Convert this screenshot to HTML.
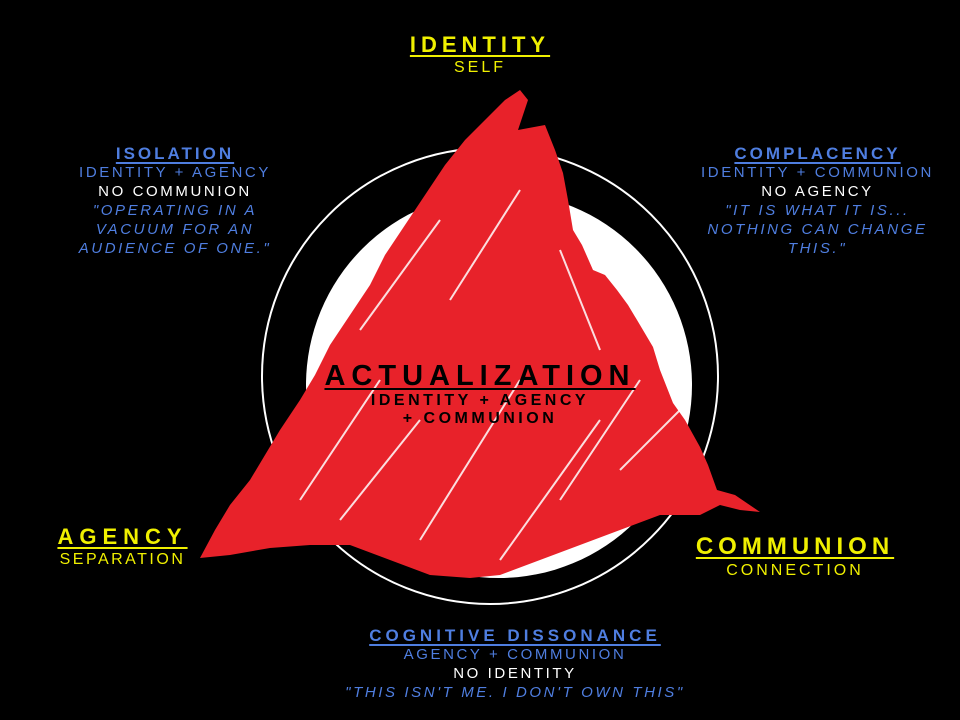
<!DOCTYPE html>
<html><head><meta charset="utf-8"><style>
html,body{margin:0;padding:0;background:#000;}
#c{position:relative;width:960px;height:720px;overflow:hidden;background:#000;font-family:"Liberation Sans",sans-serif;}
.b{position:absolute;text-align:center;text-transform:uppercase;white-space:nowrap;}
.b div{line-height:19px;font-size:15px;letter-spacing:2.6px;}
.h{font-weight:bold;text-decoration:underline;text-decoration-thickness:2px;text-underline-offset:3px;}
.blue{color:#4f7ee0;}
.w{color:#fff;}
.y{color:#f0f000;}
.i{font-style:italic;}
</style></head><body><div id="c">
<svg width="960" height="720" style="position:absolute;left:0;top:0">
<circle cx="490" cy="376" r="228" fill="#000" stroke="#fff" stroke-width="2"/>
<circle cx="499" cy="385" r="193" fill="#fff"/>
<polygon fill="#e8222a" points="520,90 528,100 518,130 545,125 555,150 563,173 568,200 573,230 582,245 593,270 605,275 617,290 628,305 640,325 653,347 660,370 673,403 685,420 700,447 708,465 717,490 735,495 760,512 740,510 720,505 700,515 660,515 620,530 580,545 540,560 500,575 470,578 430,575 390,560 350,545 310,545 270,548 230,555 200,558 215,530 230,505 250,480 265,455 280,430 300,400 315,375 330,345 350,315 370,285 385,255 405,225 425,195 445,165 465,140 490,115 505,100"/>
<g stroke="#fff" stroke-width="2" opacity="0.85">
<line x1="300" y1="500" x2="380" y2="380"/>
<line x1="420" y1="540" x2="520" y2="380"/>
<line x1="560" y1="500" x2="640" y2="380"/>
<line x1="450" y1="300" x2="520" y2="190"/>
<line x1="360" y1="330" x2="440" y2="220"/>
<line x1="600" y1="350" x2="560" y2="250"/>
<line x1="500" y1="560" x2="600" y2="420"/>
<line x1="340" y1="520" x2="420" y2="420"/>
<line x1="620" y1="470" x2="690" y2="400"/>
</g>
</svg>
<div class="b" style="left:330px;width:300px;top:32px"><div class="y h" style="font-size:22px;line-height:26px;letter-spacing:5px">Identity</div><div class="y" style="font-size:16px;letter-spacing:3px">Self</div></div>
<div class="b" style="left:40px;width:270px;top:144px"><div class="blue h" style="font-size:17px;letter-spacing:3px">Isolation</div><div class="blue">Identity + Agency</div><div class="w">No communion</div><div class="blue i">"Operating in a</div><div class="blue i">vacuum for an</div><div class="blue i">audience of one."</div></div>
<div class="b" style="left:670px;width:295px;top:144px"><div class="blue h" style="font-size:17px;letter-spacing:3px">Complacency</div><div class="blue">Identity + Communion</div><div class="w">No Agency</div><div class="blue i">"It is what it is...</div><div class="blue i">Nothing can change</div><div class="blue i">this."</div></div>
<div class="b" style="left:20px;width:205px;top:524px"><div class="y h" style="font-size:22px;line-height:26px;letter-spacing:6px">Agency</div><div class="y" style="font-size:16px;letter-spacing:2.5px">Separation</div></div>
<div class="b" style="left:655px;width:280px;top:533px"><div class="y h" style="font-size:24px;line-height:28px;letter-spacing:5px">Communion</div><div class="y" style="font-size:16px;letter-spacing:3px">Connection</div></div>
<div class="b" style="left:290px;width:450px;top:626px"><div class="blue h" style="font-size:17px;letter-spacing:4px">Cognitive Dissonance</div><div class="blue">Agency + Communion</div><div class="w">No Identity</div><div class="blue i">"This isn't me. I don't own this"</div></div>
<div class="b" style="left:260px;width:440px;top:360px"><div class="h" style="color:#000;font-size:29px;line-height:32px;letter-spacing:6px">Actualization</div><div style="color:#000;font-weight:bold;font-size:16px;line-height:18px;letter-spacing:3.5px">Identity + Agency</div><div style="color:#000;font-weight:bold;font-size:16px;line-height:18px;letter-spacing:3.5px">+ Communion</div></div>
</div></body></html>
